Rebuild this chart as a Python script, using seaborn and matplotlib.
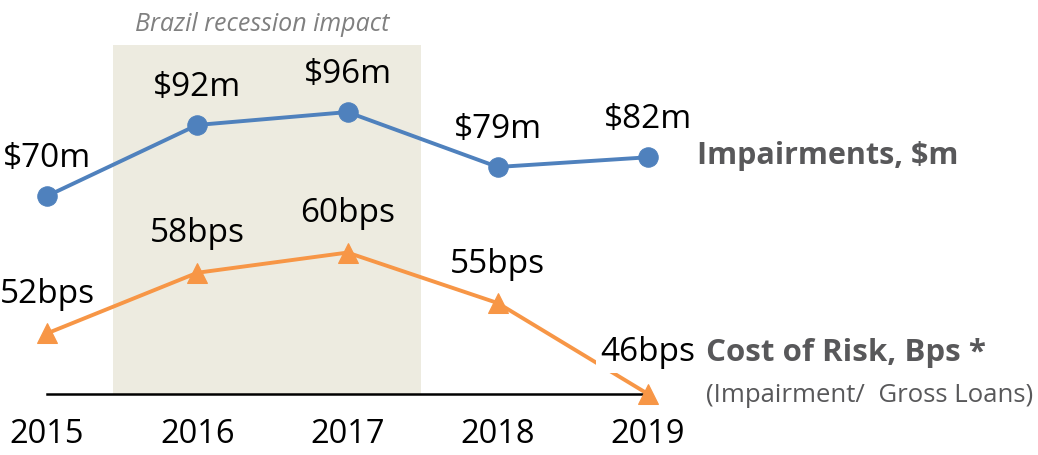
import matplotlib
matplotlib.use("Agg")
import matplotlib.pyplot as plt
import seaborn as sns
import pandas as pd

# chart values
years = [2015, 2016, 2017, 2018, 2019]
impairments = [70, 92, 96, 79, 82]        # $m
cost_of_risk = [52, 58, 60, 55, 46]       # bps
imp_labels = ["$%dm" % v for v in impairments]
cor_labels = ["%dbps" % v for v in cost_of_risk]
recession_years = [2015.44, 2017.49]

df = pd.DataFrame({"Year": years, "Impairments": impairments, "CoR": cost_of_risk})

sns.set_style("white")
plt.rcParams["font.family"] = ["Open Sans", "DejaVu Sans"]

BLUE = "#4F81BD"
ORANGE = "#F79646"
GREY = "#58585A"

fig = plt.figure(figsize=(10.38, 4.55), dpi=100)
ax = fig.add_axes([0, 61 / 455, 1, 394 / 455])
ax2 = ax.twinx()

ax.axvspan(recession_years[0], recession_years[1], ymin=0, ymax=0.886,
           color="#EDEBE0", zorder=0, lw=0)

sns.lineplot(data=df, x="Year", y="Impairments", ax=ax, color=BLUE,
             marker="o", markersize=14, markeredgecolor=BLUE, linewidth=2.8,
             clip_on=False)
sns.lineplot(data=df, x="Year", y="CoR", ax=ax2, color=ORANGE,
             marker="^", markersize=15, markeredgecolor=ORANGE, linewidth=2.8,
             clip_on=False)

ax.set_xlim(2014.687, 2021.596)
ax.set_ylim(8.7, 130.7)
ax2.set_ylim(46, 85)

for x, y, s in zip(years, impairments, imp_labels):
    ax.annotate(s, (x, y), xytext=(0, 21), textcoords="offset points",
                ha="center", va="baseline", fontsize=24, color="black")
for i, (x, y, s) in enumerate(zip(years, cost_of_risk, cor_labels)):
    bbox = None
    if i == len(years) - 1:
        bbox = dict(facecolor="white", edgecolor="none", pad=3)
    ax2.annotate(s, (x, y), xytext=(0, 22 if bbox is None else 24),
                 textcoords="offset points", ha="center", va="baseline",
                 fontsize=24, color="black", bbox=bbox, zorder=5)

# series names
ax.annotate("Impairments, $m", (years[-1], impairments[-1]), xytext=(35, -5),
            textcoords="offset points", ha="left", va="baseline",
            fontsize=22, fontweight="bold", color=GREY)
ax2.annotate("Cost of Risk, Bps *", (years[-1], cost_of_risk[-1]),
             xytext=(42, 24), textcoords="offset points", ha="left",
             va="baseline", fontsize=22.5, fontweight="bold", color=GREY)
ax2.annotate("(Impairment/  Gross Loans)", (years[-1], cost_of_risk[-1]),
             xytext=(42, -6), textcoords="offset points", ha="left",
             va="baseline", fontsize=18.5, color=GREY)

fig.text(262 / 1038, 1 - 31 / 455, "Brazil recession impact", ha="center",
         va="baseline", fontsize=18, style="italic", color="#808080")

for a in (ax, ax2):
    for side in ["top", "right", "left", "bottom"]:
        a.spines[side].set_visible(False)
    a.set_yticks([])
    a.set_xlabel("")
    a.set_ylabel("")
ax.spines["bottom"].set_visible(True)
ax.spines["bottom"].set_color("black")
ax.spines["bottom"].set_linewidth(1.8)
ax.spines["bottom"].set_bounds(2015, 2019)
ax.set_xticks(years)
ax.set_xticklabels([str(y) for y in years])
ax.tick_params(axis="x", length=0, pad=17, labelsize=23.5, labelcolor="black")
ax2.tick_params(axis="x", length=0)

fig.savefig("out.png", dpi=100)
